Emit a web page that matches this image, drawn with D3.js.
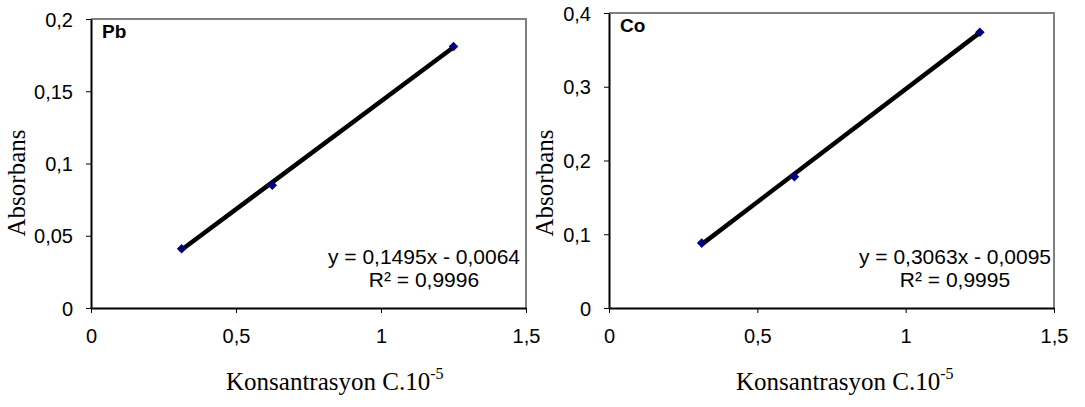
<!DOCTYPE html>
<html>
<head>
<meta charset="utf-8">
<script src="https://cdn.jsdelivr.net/npm/d3@7"></script>
<style>
  body { margin: 0; background: #fff; }
  svg { display: block; }
  .tick text { font-family: "Liberation Sans", Arial, sans-serif; font-size: 20px; fill: #000; }
  .axis path, .axis line { stroke: #000; }
</style>
</head>
<body>
<div class="mainviz"></div>
<script>
// concentrations (x) shared by both panels
var konsantrasyon = [0.3125, 0.625, 1.25];

// measured absorbance
var pbValues = [0.041, 0.085, 0.181];
var coValues = [0.088, 0.178, 0.374];

// trend line coefficients as printed on the chart
var pbTrend = [0.1495, -0.0064];
var coTrend = [0.3063, -0.0095];
var pbEquation = ["y = 0,1495x - 0,0064", "R² = 0,9996"];
var coEquation = ["y = 0,3063x - 0,0095", "R² = 0,9995"];

// ticks
var xTicks = [0, 0.5, 1, 1.5];
var xTickLabels = ["0", "0,5", "1", "1,5"];
var pbYTicks = [0, 0.05, 0.1, 0.15, 0.2];
var pbYTickLabels = ["0", "0,05", "0,1", "0,15", "0,2"];
var coYTicks = [0, 0.1, 0.2, 0.3, 0.4];
var coYTickLabels = ["0", "0,1", "0,2", "0,3", "0,4"];

var svg = d3.select(".mainviz").append("svg")
	.attr("width", 1085)
	.attr("height", 407);

function panel(opt) {
	var x = d3.scaleLinear().domain([0, 1.5]).range([opt.left, opt.right]);
	var y = d3.scaleLinear().domain([0, opt.ymax]).range([opt.bottom, opt.top]);
	var g = svg.append("g");

	// plot area frame: grey top/right like Excel
	g.append("path")
		.attr("d", "M" + x(0) + "," + y(opt.ymax) + "H" + x(1.5) + "V" + y(0))
		.attr("fill", "none")
		.attr("stroke", "#808080")
		.attr("stroke-width", 2);

	var yAxis = d3.axisLeft(y)
		.tickValues(opt.yTicks)
		.tickFormat(function(d, i){ return opt.yLabels[i]; })
		.tickSizeInner(5).tickSizeOuter(0).tickPadding(13);
	g.append("g")
		.attr("class", "axis y")
		.attr("transform", "translate(" + opt.left + ",0)")
		.call(yAxis)
		.call(function(s){ s.select(".domain").attr("stroke-width", 2); s.selectAll("text").attr("dy", "0.36em"); });

	var xAxis = d3.axisBottom(x)
		.tickValues(xTicks)
		.tickFormat(function(d, i){ return xTickLabels[i]; })
		.tickSizeInner(5).tickSizeOuter(0).tickPadding(16);
	g.append("g")
		.attr("class", "axis x")
		.attr("transform", "translate(0," + opt.bottom + ")")
		.call(xAxis)
		.call(function(s){ s.select(".domain").attr("stroke-width", 2); });

	// trend line over the measured range
	var x0 = d3.min(konsantrasyon), x1 = d3.max(konsantrasyon);
	g.append("line")
		.attr("x1", x(x0)).attr("y1", y(opt.trend[0] * x0 + opt.trend[1]))
		.attr("x2", x(x1)).attr("y2", y(opt.trend[0] * x1 + opt.trend[1]))
		.attr("stroke", "#000")
		.attr("stroke-width", 4.5);

	g.selectAll("path.pt")
		.data(opt.values)
		.enter().append("path")
		.attr("class", "pt")
		.attr("d", d3.symbol(d3.symbolSquare, 46))
		.attr("transform", function(d, i){ return "translate(" + x(konsantrasyon[i]) + "," + y(d) + ") rotate(45)"; })
		.attr("fill", "#000080");

	g.append("text")
		.attr("x", opt.left + 11)
		.attr("y", opt.top + 19)
		.attr("font-family", "Liberation Sans, Arial, sans-serif")
		.attr("font-weight", "bold")
		.attr("font-size", 19)
		.text(opt.title);

	var eq = g.append("text")
		.attr("font-family", "Liberation Sans, Arial, sans-serif")
		.attr("font-size", 21)
		.attr("text-anchor", "middle");
	eq.append("tspan").attr("x", opt.eqX).attr("y", 264).text(opt.eq[0]);
	eq.append("tspan").attr("x", opt.eqX).attr("y", 287).text(opt.eq[1]);

	g.append("text")
		.attr("transform", "translate(" + opt.ylabX + ",183) rotate(-90)")
		.attr("text-anchor", "middle")
		.attr("font-family", "Liberation Serif, Times New Roman, serif")
		.attr("font-size", 25)
		.text("Absorbans");

	var xt = g.append("text")
		.attr("x", opt.xlabX)
		.attr("y", 390)
		.attr("font-family", "Liberation Serif, Times New Roman, serif")
		.attr("font-size", 25);
	xt.append("tspan").text("Konsantrasyon C.10");
	xt.append("tspan").attr("font-size", 16).attr("dy", -11).text("-5");
}

panel({ left: 91, right: 526, top: 19, bottom: 308, ymax: 0.2,
	yTicks: pbYTicks, yLabels: pbYTickLabels, values: pbValues, trend: pbTrend,
	title: "Pb", eq: pbEquation, eqX: 424, ylabX: 25, xlabX: 226 });

panel({ left: 609, right: 1054, top: 13, bottom: 308, ymax: 0.4,
	yTicks: coYTicks, yLabels: coYTickLabels, values: coValues, trend: coTrend,
	title: "Co", eq: coEquation, eqX: 955, ylabX: 553, xlabX: 736 });
</script>
</body>
</html>
